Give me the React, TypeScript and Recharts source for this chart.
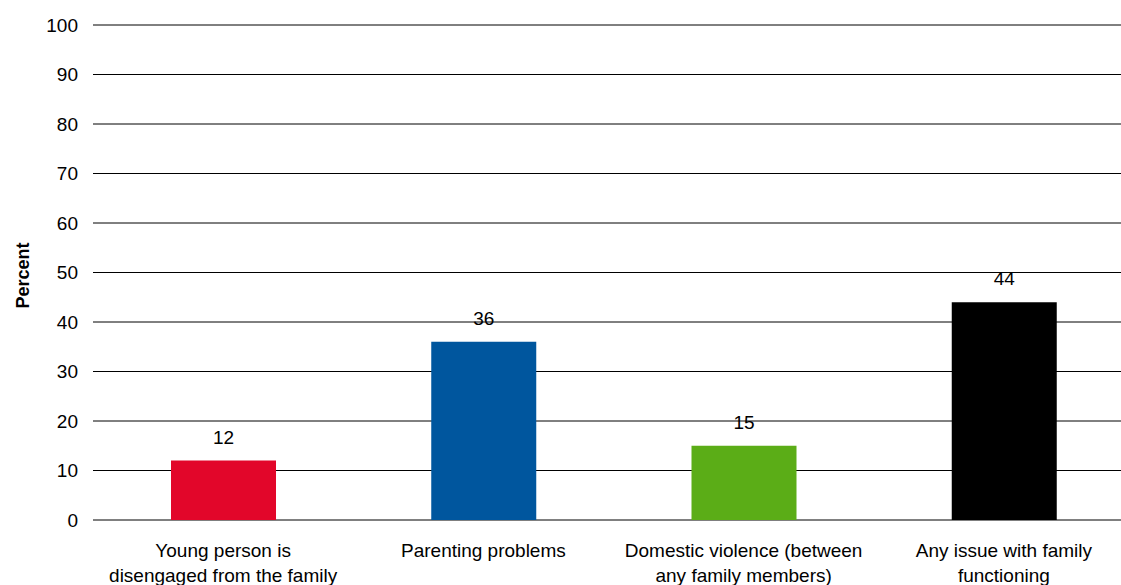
import React from 'react';
import { BarChart, Bar, XAxis, YAxis, CartesianGrid, LabelList, Cell, Label } from 'recharts';

// Share of young people with each family-functioning issue (%)
const categories = [
  'Young person is disengaged from the family',
  'Parenting problems',
  'Domestic violence (between any family members)',
  'Any issue with family functioning',
];
const categoryLines = [
  ['Young person is', 'disengaged from the family'],
  ['Parenting problems'],
  ['Domestic violence (between', 'any family members)'],
  ['Any issue with family', 'functioning'],
];
const percentValues = [12, 36, 15, 44];
const barColors = ['#E2062A', '#00569E', '#5BAD17', '#000000'];
const yTicks = [0, 10, 20, 30, 40, 50, 60, 70, 80, 90, 100];

const data = categories.map((name, i) => ({ name, value: percentValues[i], index: i }));

const FONT = '"Liberation Sans", Arial, sans-serif';

const CategoryTick = (props: any) => {
  const { x, y, payload } = props;
  const lines = categoryLines[payload.index] || [payload.value];
  return (
    <g transform={`translate(${x},${y})`}>
      {lines.map((line: string, i: number) => (
        <text
          key={i}
          x={0}
          y={29 + i * 25}
          textAnchor="middle"
          fontFamily={FONT}
          fontSize={19}
          fill="#000"
        >
          {line}
        </text>
      ))}
    </g>
  );
};

const AxisTitle = (props: any) => {
  const vb = props.viewBox || { x: 0, y: 25, width: 93, height: 495 };
  const cx = 23;
  const cy = vb.y + vb.height / 2 + 3;
  return (
    <text
      x={cx}
      y={cy}
      transform={`rotate(-90, ${cx}, ${cy})`}
      textAnchor="middle"
      dominantBaseline="central"
      fontFamily={FONT}
      fontSize={18}
      fontWeight="bold"
      fill="#000"
    >
      Percent
    </text>
  );
};

export default function App() {
  return (
    <div
      style={{
        position: 'fixed',
        left: 0,
        top: 0,
        width: 1121,
        height: 585,
        overflow: 'hidden',
        background: '#fff',
      }}
    >
      <BarChart
        width={1134}
        height={585}
        data={data}
        margin={{ top: 25, right: 0, bottom: 0, left: 0 }}
      >
        <CartesianGrid vertical={false} stroke="#000" strokeWidth={1} />
        <XAxis
          dataKey="name"
          height={65}
          axisLine={false}
          tickLine={false}
          interval={0}
          tickSize={6}
          tickMargin={2}
          tick={<CategoryTick />}
        />
        <YAxis
          domain={[0, 100]}
          ticks={yTicks}
          interval={0}
          width={93}
          axisLine={false}
          tickLine={false}
          tickSize={6}
          tickMargin={9}
          tick={{ fontFamily: FONT, fontSize: 19, fill: '#000' }}
        >
          <Label content={<AxisTitle />} />
        </YAxis>
        <Bar dataKey="value" barSize={105} isAnimationActive={false}>
          {data.map((d, i) => (
            <Cell key={d.name} fill={barColors[i]} />
          ))}
          <LabelList
            dataKey="value"
            position="top"
            offset={17}
            fontFamily={FONT}
            fontSize={19}
            fill="#000"
          />
        </Bar>
      </BarChart>
    </div>
  );
}
